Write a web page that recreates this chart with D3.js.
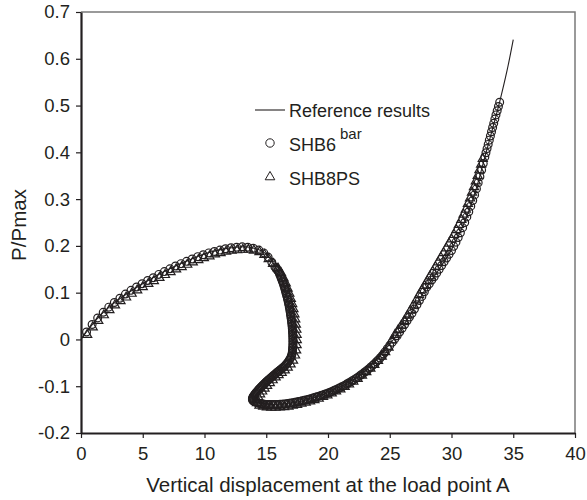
<!DOCTYPE html>
<html>
<head>
<meta charset="utf-8">
<script src="https://cdn.jsdelivr.net/npm/d3@7/dist/d3.min.js"></script>
<style>
  body { margin: 0; background: #fff; }
  svg { display: block; font-family: "Liberation Sans", Arial, Helvetica, sans-serif; }
  .axis text { fill: #231f20; font-size: 18.5px; }
  .axis line, .axis path { stroke: #231f20; }
</style>
</head>
<body>
<div id="chart"></div>
<script>
// axis ticks
const xTicks = [0, 5, 10, 15, 20, 25, 30, 35, 40];
const yTicks = [-0.2, -0.1, 0, 0.1, 0.2, 0.3, 0.4, 0.5, 0.6, 0.7];

// Reference results (solid line), [displacement, P/Pmax]
const refLine = [
  [0, 0], [0.5, 0.018], [1.5, 0.05], [2.5, 0.074], [3.5, 0.094], [4.5, 0.111],
  [5.5, 0.127], [6.5, 0.142], [7.5, 0.155], [8.5, 0.167], [9.5, 0.178],
  [10.5, 0.187], [11.5, 0.193], [12.5, 0.197], [13.3, 0.198], [14, 0.195],
  [14.7, 0.188], [15.3, 0.174], [15.7, 0.156], [16.1, 0.138], [16.6, 0.1],
  [16.95, 0.05], [17.17, 0], [17.1, -0.03], [16.7, -0.05], [16.1, -0.064],
  [15.3, -0.08], [14.5, -0.1], [14.0, -0.115], [13.9, -0.128], [14.3, -0.135],
  [15.5, -0.139], [17, -0.136], [18.8, -0.125], [20, -0.114], [21.2, -0.099],
  [22.5, -0.078], [23.7, -0.05], [24.8, -0.016], [25.6, 0.01], [26.4, 0.042],
  [27.2, 0.076], [28, 0.112], [29, 0.15], [30, 0.192], [31, 0.247], [32, 0.322],
  [32.7, 0.39], [33.3, 0.448], [33.9, 0.508], [34.5, 0.575], [35, 0.641]
];

// SHB6 bar (circles)
const shb6 = [
  [0.45, 0.016], [0.9, 0.032], [1.35, 0.046], [1.8, 0.058], [2.25, 0.069],
  [2.7, 0.079], [3.15, 0.088], [3.6, 0.097], [4.05, 0.105], [4.5, 0.112],
  [4.95, 0.119], [5.4, 0.126], [5.85, 0.132], [6.3, 0.139], [6.75, 0.145],
  [7.2, 0.151], [7.65, 0.157], [8.1, 0.162], [8.55, 0.167], [9.0, 0.172],
  [9.45, 0.177], [9.9, 0.181], [10.35, 0.185], [10.8, 0.188], [11.25, 0.191],
  [11.7, 0.194], [12.15, 0.196], [12.6, 0.197], [13.05, 0.198], [13.5, 0.197],
  [13.95, 0.195], [14.4, 0.191], [14.8, 0.185], [15.15, 0.176], [15.45, 0.165],
  [15.7, 0.155], [15.78, 0.1525], [15.85, 0.15], [15.93, 0.1475], [16.0, 0.145],
  [16.05, 0.142], [16.1, 0.139], [16.15, 0.1355], [16.2, 0.132], [16.25, 0.1285],
  [16.3, 0.125], [16.35, 0.1215], [16.4, 0.118], [16.44, 0.1145], [16.48, 0.111],
  [16.52, 0.1075], [16.55, 0.104], [16.59, 0.1005], [16.62, 0.097], [16.66, 0.0935],
  [16.7, 0.09], [16.73, 0.0865], [16.76, 0.083], [16.79, 0.0795], [16.82, 0.076],
  [16.85, 0.0725], [16.87, 0.069], [16.9, 0.0655], [16.92, 0.062], [16.94, 0.0585],
  [16.96, 0.055], [16.98, 0.0515], [17.0, 0.048], [17.02, 0.0445], [17.04, 0.041],
  [17.06, 0.0375], [17.07, 0.034], [17.09, 0.0305], [17.1, 0.027], [17.11, 0.0235],
  [17.12, 0.02], [17.13, 0.0165], [17.14, 0.013], [17.15, 0.0095], [17.15, 0.006],
  [17.16, 0.0025], [17.16, -0.001], [17.16, -0.0045], [17.16, -0.008], [17.16, -0.0115],
  [17.15, -0.015], [17.14, -0.0185], [17.13, -0.022], [17.12, -0.0255], [17.1, -0.029],
  [17.07, -0.0325], [17.03, -0.036], [16.98, -0.039], [16.92, -0.042], [16.85, -0.045],
  [16.78, -0.048], [16.7, -0.0505], [16.62, -0.053], [16.54, -0.0555], [16.45, -0.058],
  [16.36, -0.06], [16.27, -0.062], [16.18, -0.064], [16.08, -0.066], [15.99, -0.068],
  [15.9, -0.07], [15.81, -0.072], [15.72, -0.074], [15.63, -0.076], [15.55, -0.078],
  [15.46, -0.08], [15.38, -0.082], [15.29, -0.084], [15.2, -0.086], [15.11, -0.088],
  [15.03, -0.09], [14.95, -0.092], [14.87, -0.094], [14.8, -0.096], [14.72, -0.098],
  [14.65, -0.1], [14.57, -0.102], [14.5, -0.104], [14.43, -0.106], [14.36, -0.108],
  [14.3, -0.11], [14.23, -0.112], [14.17, -0.114], [14.11, -0.116], [14.05, -0.118],
  [14.0, -0.12], [13.95, -0.122], [13.91, -0.124], [13.88, -0.126], [13.88, -0.128],
  [13.9, -0.13], [13.96, -0.1318], [14.05, -0.133], [14.15, -0.134], [14.25, -0.135],
  [14.36, -0.136], [14.48, -0.137], [14.6, -0.1375], [14.72, -0.138], [14.85, -0.1385],
  [14.97, -0.139], [15.1, -0.139], [15.22, -0.139], [15.37, -0.139], [15.52, -0.139],
  [15.67, -0.139], [15.82, -0.139], [15.97, -0.139], [16.12, -0.1388], [16.27, -0.1385],
  [16.42, -0.1382], [16.57, -0.1378], [16.72, -0.1372], [16.87, -0.1366], [17.02, -0.1359],
  [17.17, -0.1352], [17.32, -0.1345], [17.47, -0.1337], [17.62, -0.1329], [17.77, -0.132],
  [17.92, -0.1311], [18.07, -0.1302], [18.22, -0.1292], [18.37, -0.1282], [18.52, -0.1272],
  [18.67, -0.1261], [18.82, -0.1249], [18.97, -0.1237], [19.12, -0.1225], [19.27, -0.1213],
  [19.42, -0.12], [19.57, -0.1187], [19.72, -0.1173], [19.87, -0.1159], [20.02, -0.1144],
  [20.17, -0.1128], [20.32, -0.1111], [20.47, -0.1093], [20.62, -0.1075], [20.77, -0.1057],
  [20.92, -0.1038], [21.07, -0.1018], [21.22, -0.0998], [21.37, -0.0977], [21.52, -0.0955],
  [21.67, -0.0932], [21.82, -0.0908], [21.97, -0.0884], [22.12, -0.0859], [22.27, -0.0833],
  [22.42, -0.0806], [22.57, -0.0778], [22.72, -0.075], [22.87, -0.072], [23.02, -0.069],
  [23.17, -0.0658], [23.32, -0.0625], [23.47, -0.059], [23.62, -0.0554], [23.77, -0.0517],
  [23.92, -0.0478], [24.07, -0.0438], [24.22, -0.0397], [24.37, -0.0355], [24.5, -0.031],
  [24.6, -0.027], [24.8, -0.02], [25.0, -0.013], [25.2, -0.006], [25.4, 0.001],
  [25.6, 0.008], [25.8, 0.016], [26.0, 0.024], [26.2, 0.032], [26.4, 0.04],
  [26.6, 0.048], [26.8, 0.056], [27.0, 0.065], [27.2, 0.074], [27.4, 0.083],
  [27.6, 0.092], [27.8, 0.102], [28.0, 0.112], [28.2, 0.119], [28.4, 0.127],
  [28.6, 0.134], [28.8, 0.142], [29.0, 0.15], [29.2, 0.158], [29.4, 0.166],
  [29.6, 0.174], [29.8, 0.182], [30.0, 0.19], [30.18, 0.199], [30.36, 0.208],
  [30.54, 0.218], [30.72, 0.228], [30.9, 0.239], [31.07, 0.25], [31.24, 0.262],
  [31.4, 0.273], [31.56, 0.285], [31.72, 0.297], [31.87, 0.309], [32.02, 0.322],
  [32.16, 0.335], [32.3, 0.348], [32.44, 0.362], [32.57, 0.376], [32.7, 0.39],
  [32.79, 0.399], [32.88, 0.408], [32.97, 0.417], [33.06, 0.426], [33.15, 0.435],
  [33.24, 0.444], [33.33, 0.453], [33.42, 0.462], [33.51, 0.471], [33.6, 0.48],
  [33.7, 0.489], [33.8, 0.498], [33.9, 0.507]
];

// SHB8PS (triangles)
const shb8ps = [
  [0.5, 0.01], [0.95, 0.026], [1.4, 0.04], [1.85, 0.052], [2.3, 0.063],
  [2.75, 0.073], [3.2, 0.082], [3.65, 0.09], [4.1, 0.098], [4.55, 0.105],
  [5.0, 0.112], [5.45, 0.119], [5.9, 0.125], [6.35, 0.132], [6.8, 0.138],
  [7.25, 0.144], [7.7, 0.15], [8.15, 0.155], [8.6, 0.16], [9.05, 0.165],
  [9.5, 0.17], [9.95, 0.174], [10.4, 0.178], [10.85, 0.182], [11.3, 0.185],
  [11.75, 0.188], [12.2, 0.19], [12.65, 0.191], [13.1, 0.192], [13.55, 0.192],
  [14.0, 0.19], [14.45, 0.187], [14.85, 0.181], [15.2, 0.172], [15.55, 0.162],
  [15.95, 0.152], [16.2, 0.142], [16.4, 0.131], [16.58, 0.12], [16.73, 0.109],
  [16.87, 0.098], [16.99, 0.087], [17.1, 0.076], [17.2, 0.065], [17.28, 0.054],
  [17.35, 0.043], [17.4, 0.032], [17.44, 0.021], [17.46, 0.01], [17.47, -0.001],
  [17.46, -0.012], [17.42, -0.023], [17.33, -0.034], [17.17, -0.045], [16.97, -0.053],
  [16.74, -0.06], [16.5, -0.066], [16.25, -0.071], [16.0, -0.076], [15.76, -0.081],
  [15.52, -0.087], [15.29, -0.093], [15.07, -0.099], [14.86, -0.105], [14.67, -0.111],
  [14.5, -0.117], [14.35, -0.123], [14.25, -0.129], [14.25, -0.136], [14.45, -0.141],
  [14.75, -0.1435], [15.05, -0.145], [15.4, -0.1455], [15.75, -0.1455], [16.1, -0.145],
  [16.45, -0.1443], [16.8, -0.1432], [17.15, -0.1415], [17.5, -0.1395], [17.85, -0.1372],
  [18.2, -0.1348], [18.55, -0.1322], [18.9, -0.1293], [19.25, -0.1262], [19.6, -0.1228],
  [19.95, -0.1191], [20.3, -0.1151], [20.65, -0.1108], [21.0, -0.1063], [21.35, -0.1013],
  [21.7, -0.096], [22.05, -0.0902], [22.4, -0.0838], [22.75, -0.077], [23.1, -0.0697],
  [23.43, -0.062], [23.75, -0.054], [24.05, -0.0455], [24.35, -0.0365], [24.63, -0.027],
  [24.9, -0.017], [25.17, -0.002], [25.43, 0.01], [25.69, 0.02], [25.94, 0.03],
  [26.19, 0.04], [26.44, 0.051], [26.68, 0.062], [26.92, 0.073], [27.15, 0.084],
  [27.38, 0.095], [27.6, 0.105], [27.82, 0.115], [28.04, 0.125], [28.26, 0.135],
  [28.48, 0.145], [28.7, 0.155], [28.92, 0.165], [29.14, 0.175], [29.36, 0.185],
  [29.58, 0.195], [29.8, 0.205], [30.0, 0.214], [30.2, 0.224], [30.4, 0.234],
  [30.6, 0.245], [30.8, 0.256], [30.98, 0.267], [31.16, 0.278], [31.33, 0.29],
  [31.5, 0.302], [31.66, 0.314], [31.82, 0.326], [31.97, 0.338], [32.12, 0.35],
  [32.26, 0.362], [32.4, 0.374], [32.53, 0.386]
];

const margin = { top: 12, right: 12, bottom: 67, left: 81 },
  width = 587 - margin.left - margin.right,
  height = 500 - margin.top - margin.bottom,
  ink = "#231f20";

const svg = d3.select("#chart")
  .append("svg")
    .attr("width", 587)
    .attr("height", 500);

const g = svg.append("g")
    .attr("transform", "translate(" + margin.left + "," + margin.top + ")");

const xScale = d3.scaleLinear().domain([0, 40]).range([0, width]);
const yScale = d3.scaleLinear().domain([-0.2, 0.7]).range([height, 0]);

// thin grey frame on top and right
g.append("path")
    .attr("d", "M0,0H" + width + "V" + height)
    .attr("fill", "none")
    .attr("stroke", "#7a7a7a")
    .attr("stroke-width", 1.5);

// X axis
g.append("g")
    .attr("class", "axis")
    .attr("transform", "translate(0," + height + ")")
    .call(d3.axisBottom(xScale).tickValues(xTicks).tickSize(5).tickSizeOuter(0).tickPadding(9))
    .call(a => a.select(".domain").attr("stroke-width", 2.2))
    .call(a => a.selectAll(".tick line").attr("stroke-width", 1.2));

// Y axis
g.append("g")
    .attr("class", "axis")
    .call(d3.axisLeft(yScale).tickValues(yTicks).tickSize(5).tickSizeOuter(0).tickPadding(6)
      .tickFormat(d => String(Math.round(d * 10) / 10)))
    .call(a => a.select(".domain").attr("stroke-width", 2.2))
    .call(a => a.selectAll(".tick line").attr("stroke-width", 1.2));

// axis labels
svg.append("text")
    .attr("x", margin.left + width / 2)
    .attr("y", 492)
    .attr("text-anchor", "middle")
    .attr("fill", ink)
    .style("font-size", "20.5px")
    .text("Vertical displacement at the load point A");

svg.append("text")
    .attr("transform", "translate(26," + 225 + ") rotate(-90)")
    .attr("text-anchor", "middle")
    .attr("fill", ink)
    .style("font-size", "20.5px")
    .text("P/Pmax");

// plotted data
const plot = g.append("g");

const line = d3.line()
    .x(d => xScale(d[0]))
    .y(d => yScale(d[1]))
    .curve(d3.curveCatmullRom);

plot.append("path")
    .datum(refLine)
    .attr("d", line)
    .attr("fill", "none")
    .attr("stroke", ink)
    .attr("stroke-width", 1.1);

const tri = d3.symbol().type(d3.symbolTriangle).size(36);

plot.selectAll(".tri")
    .data(shb8ps)
    .enter()
    .append("path")
    .attr("class", "tri")
    .attr("d", tri)
    .attr("transform", d => "translate(" + xScale(d[0]) + "," + yScale(d[1]) + ")")
    .attr("fill", "none")
    .attr("stroke", ink)
    .attr("stroke-width", 1.2);

plot.selectAll(".circ")
    .data(shb6)
    .enter()
    .append("circle")
    .attr("class", "circ")
    .attr("cx", d => xScale(d[0]))
    .attr("cy", d => yScale(d[1]))
    .attr("r", 3.9)
    .attr("fill", "none")
    .attr("stroke", ink)
    .attr("stroke-width", 1.2);

// legend
const legend = svg.append("g").attr("fill", ink).style("font-size", "18px");

legend.append("line")
    .attr("x1", 255).attr("x2", 285)
    .attr("y1", 110).attr("y2", 110)
    .attr("stroke", ink).attr("stroke-width", 1.1);
legend.append("text").attr("x", 289).attr("y", 117).text("Reference results");

legend.append("circle")
    .attr("cx", 270).attr("cy", 143).attr("r", 4.2)
    .attr("fill", "none").attr("stroke", ink).attr("stroke-width", 1);
const t2 = legend.append("text").attr("x", 289).attr("y", 151);
t2.append("tspan").text("SHB6");
t2.append("tspan").attr("dx", 4).attr("dy", -12).style("font-size", "15px").text("bar");

legend.append("path")
    .attr("d", d3.symbol().type(d3.symbolTriangle).size(40))
    .attr("transform", "translate(270,177)")
    .attr("fill", "none").attr("stroke", ink).attr("stroke-width", 1);
legend.append("text").attr("x", 289).attr("y", 185).text("SHB8PS");
</script>
</body>
</html>
